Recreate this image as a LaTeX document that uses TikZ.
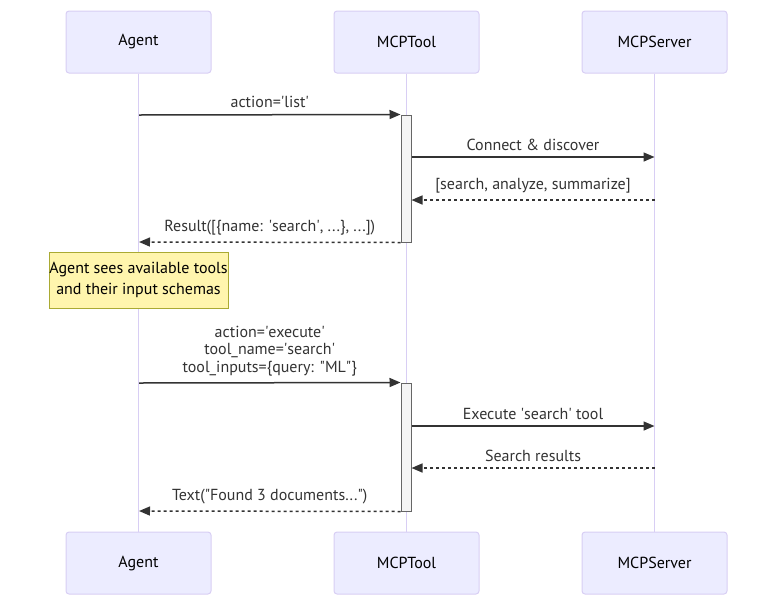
\documentclass[tikz,border=0pt]{standalone}
\usepackage{fontspec}
\setmainfont{PT Sans}
\usepackage{tikz}
\usetikzlibrary{arrows.meta,positioning}
\definecolor{actorbg}{HTML}{ECECFF}
\definecolor{actorline}{HTML}{D8CEF4}
\definecolor{ink}{HTML}{333333}
\definecolor{actfill}{HTML}{F4F4F4}
\definecolor{actline}{HTML}{666666}
\definecolor{notebg}{HTML}{FFF5AD}
\definecolor{noteline}{HTML}{AAAA33}
\newcommand{\sq}{\textquotesingle}
\newcommand{\dq}{\textquotedbl}
\tikzset{
  actor/.style={draw=actorline, fill=actorbg, rounded corners=3pt, line width=1pt,
    minimum width=145pt, minimum height=62pt, font=\fontsize{16}{19}\selectfont, text=black},
  life/.style={draw=actorline, line width=1.5pt},
  actbar/.style={draw=actline, fill=actfill, line width=1pt, minimum width=10pt, inner sep=0pt},
  msg/.style={draw=ink, line width=1.5pt, -{Triangle[length=11pt,width=9pt]}},
  reply/.style={msg, dash pattern=on 3pt off 3pt},
  lab/.style={text=ink, font=\fontsize{16}{17.5}\selectfont, inner sep=1pt, above=5pt, align=center},
  note/.style={draw=noteline, fill=notebg, line width=1pt, minimum width=179pt, minimum height=56pt,
    font=\fontsize{16}{21}\selectfont, text=black, align=center, inner sep=0pt},
}
\begin{document}
\begin{tikzpicture}[x=1pt,y=-1pt]
  \useasboundingbox (0,0) rectangle (784,611);
  % participants
  \node[actor] (agentT) at (138.5,42) {Agent};
  \node[actor] (toolT) at (406.5,42) {MCPTool};
  \node[actor] (srvT) at (654.5,42) {MCPServer};
  \node[actor] (agentB) at (138.5,563) {Agent};
  \node[actor] (toolB) at (406.5,563) {MCPTool};
  \node[actor] (srvB) at (654.5,563) {MCPServer};
  \foreach \p in {agent,tool,srv}
    \draw[life] (\p T.south) -- (\p B.north);

  % activations
  \node[actbar, minimum height=127pt] (act1) at (406,178.5) {};
  \node[actbar, minimum height=128pt] (act2) at (406,447) {};

  % list
  \coordinate (a1) at (139,115);
  \coordinate (s2) at (654.5,157);
  \coordinate (s3) at (654.5,200);
  \coordinate (a4) at (139,242);
  \draw[msg] (a1) -- node[lab] {action=\sq list\sq} (act1.north west);
  \draw[msg] (act1.east |- s2) -- node[lab] {Connect \& discover} (s2);
  \draw[reply] (s3) -- node[lab] {[search, analyze, summarize]} (act1.east |- s3);
  \draw[reply] (act1.south west) -- node[lab] {Result([\{name: \sq search\sq, ...\}, ...])} (a4);

  \node[note] (seen) at (138.5,280) {Agent sees available tools\\and their input schemas};

  % execute
  \coordinate (a5) at (139,383);
  \coordinate (s6) at (654.5,426);
  \coordinate (s7) at (654.5,468);
  \coordinate (a8) at (139,511);
  \draw[msg] (a5) -- node[lab] {action=\sq execute\sq\\tool\_name=\sq search\sq\\tool\_inputs=\{query: \dq ML\dq\}} (act2.north west);
  \draw[msg] (act2.east |- s6) -- node[lab] {Execute \sq search\sq\ tool} (s6);
  \draw[reply] (s7) -- node[lab] {Search results} (act2.east |- s7);
  \draw[reply] (act2.south west) -- node[lab] {Text(\dq Found 3 documents...\dq)} (a8);
\end{tikzpicture}
\end{document}
